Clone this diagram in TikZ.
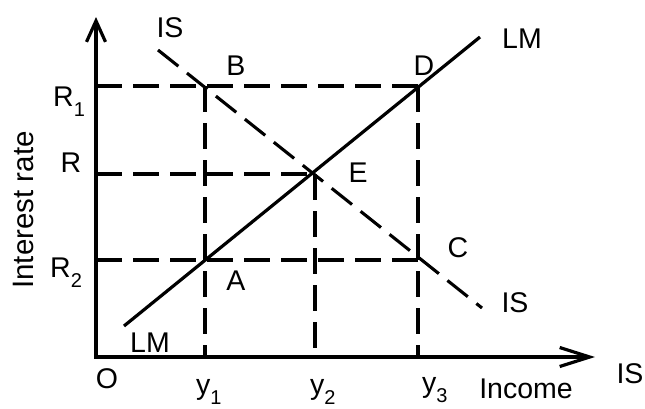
\documentclass[tikz,border=0pt]{standalone}
\usepackage{fontspec}
\setmainfont{Liberation Sans}
\usetikzlibrary{arrows.meta}
\newcommand\mysub[1]{\raisebox{-10pt}{\fontsize{20}{20}\selectfont #1}}
\begin{document}
\begin{tikzpicture}[x=1pt,y=-1pt,
  lbl/.style={inner sep=0pt,font=\fontsize{28.5}{30}\selectfont},
  axisline/.style={line width=3.2pt,line join=miter},
  solidline/.style={line width=3.2pt},
  dashline/.style={line width=3.1pt,dash pattern=on 26pt off 11pt}]
\useasboundingbox (0,0) rectangle (645,408);
% key points
\coordinate (O) at (96,357);
\coordinate (ytop) at (96,17);
\coordinate (xend) at (595,357);
\coordinate (R1ax) at (96,86);
\coordinate (Rax) at (96,174);
\coordinate (R2ax) at (96,260);
\coordinate (y1ax) at (205,357);
\coordinate (y2ax) at (315,357);
\coordinate (y3ax) at (418,357);
\coordinate (B) at (205,86);
\coordinate (D) at (418,86);
\coordinate (E) at (315,174);
\coordinate (A) at (205,260);
\coordinate (C) at (418,260);
\coordinate (LMlo) at (124,326);
\coordinate (LMhi) at (480,37);
\coordinate (IShi) at (158,50);
\coordinate (ISlo) at (482,308);
% dashed guides
\draw[dashline] (R1ax) -- (D);
\draw[dashline] (Rax) -- (E);
\draw[dashline] (R2ax) -- (C);
\draw[dashline] (B) -- (y1ax);
\draw[dashline] (E) -- (y2ax);
\draw[dashline] (D) -- (y3ax);
% curves
\draw[dashline] (IShi) -- (ISlo);
\draw[solidline] (LMlo) -- (LMhi);
% axes
\draw[axisline,{Straight Barb[length=21pt,width=19pt]}-{Straight Barb[length=30pt,width=19pt]}] (ytop) -- (O) -- (xend);
% labels
\node[lbl,anchor=base] (lIStop) at (170,37) {IS};
\node[lbl,anchor=base] (lB) at (236,75) {B};
\node[lbl,anchor=base] (lD) at (424,75) {D};
\node[lbl,anchor=base] (lLMtop) at (522,48) {LM};
\node[lbl,anchor=base west] (lR1) at (53,106) {R\mysub{1}};
\node[lbl,anchor=base] (lR) at (71,172) {R};
\node[lbl,anchor=base] (lE) at (358,182) {E};
\node[lbl,anchor=base] (lC) at (458,257) {C};
\node[lbl,anchor=base] (lISlo) at (515,312) {IS};
\node[lbl,anchor=base west] (lR2) at (50,277) {R\mysub{2}};
\node[lbl,anchor=base] (lA) at (236,290) {A};
\node[lbl,anchor=base] (lLMlo) at (150,352) {LM};
\node[lbl,anchor=base] (lO) at (107,388) {O};
\node[lbl,anchor=base west] (ly1) at (196,394) {y\mysub{1}};
\node[lbl,anchor=base west] (ly2) at (310,394) {y\mysub{2}};
\node[lbl,anchor=base west] (ly3) at (422,392) {y\mysub{3}};
\node[lbl,anchor=base] (lIncome) at (526,398) {Income};
\node[lbl,anchor=base] (lISx) at (630,383) {IS};
\node[lbl,anchor=base,rotate=90,font=\fontsize{29.5}{30}\selectfont] (lInterest) at (33,210) {Interest rate};
\end{tikzpicture}
\end{document}
